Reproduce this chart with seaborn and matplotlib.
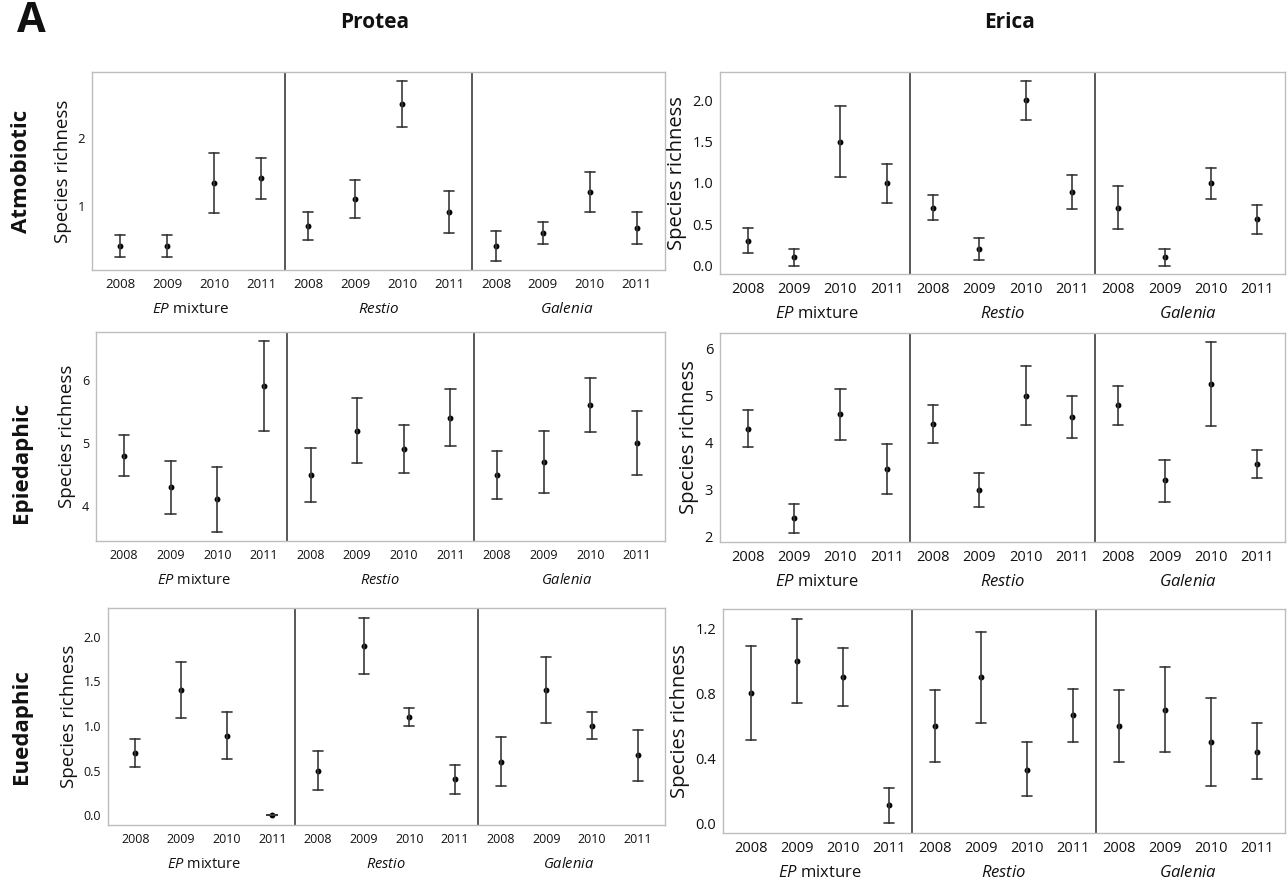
import matplotlib
matplotlib.use('Agg')
import matplotlib.pyplot as plt
import pandas as pd
import seaborn as sns

years = ['2008', '2009', '2010', '2011']
groups = ['EP mixture', 'Restio', 'Galenia']
group_labels = [r'$\mathit{EP}$ mixture', r'$\mathit{Restio}$', r'$\mathit{Galenia}$']

# means and interval ends, 12 cells each: EP mixture 2008-2011, Restio, Galenia
atmo_protea_mean = [0.40, 0.40, 1.33, 1.40, 0.70, 1.10, 2.50, 0.90, 0.40, 0.60, 1.20, 0.67]
atmo_protea_lo   = [0.24, 0.24, 0.89, 1.09, 0.49, 0.82, 2.16, 0.59, 0.18, 0.44, 0.90, 0.44]
atmo_protea_hi   = [0.56, 0.56, 1.77, 1.70, 0.91, 1.37, 2.84, 1.21, 0.62, 0.76, 1.49, 0.90]

atmo_erica_mean = [0.30, 0.10, 1.50, 1.00, 0.70, 0.20, 2.00, 0.89, 0.70, 0.10, 1.00, 0.56]
atmo_erica_lo   = [0.15, 0.00, 1.07, 0.76, 0.55, 0.07, 1.76, 0.68, 0.44, 0.00, 0.81, 0.38]
atmo_erica_hi   = [0.45, 0.20, 1.93, 1.23, 0.85, 0.33, 2.23, 1.09, 0.96, 0.20, 1.18, 0.73]

epi_protea_mean = [4.80, 4.30, 4.11, 5.90, 4.50, 5.20, 4.90, 5.40, 4.50, 4.70, 5.60, 5.00]
epi_protea_lo   = [4.48, 3.88, 3.60, 5.20, 4.07, 4.69, 4.52, 4.95, 4.12, 4.21, 5.17, 4.50]
epi_protea_hi   = [5.13, 4.72, 4.62, 6.61, 4.93, 5.71, 5.28, 5.86, 4.87, 5.20, 6.03, 5.51]

epi_erica_mean = [4.30, 2.40, 4.60, 3.45, 4.40, 3.00, 5.00, 4.55, 4.79, 3.20, 5.25, 3.55]
epi_erica_lo   = [3.90, 2.09, 4.05, 2.91, 4.00, 2.63, 4.37, 4.11, 4.38, 2.75, 4.36, 3.26]
epi_erica_hi   = [4.69, 2.70, 5.13, 3.97, 4.79, 3.36, 5.62, 4.99, 5.21, 3.64, 6.13, 3.84]

eu_protea_mean = [0.70, 1.40, 0.89, 0.00, 0.50, 1.90, 1.10, 0.40, 0.60, 1.40, 1.00, 0.67]
eu_protea_lo   = [0.54, 1.09, 0.63, 0.00, 0.28, 1.58, 1.00, 0.24, 0.33, 1.03, 0.85, 0.38]
eu_protea_hi   = [0.85, 1.71, 1.15, 0.00, 0.72, 2.21, 1.20, 0.56, 0.87, 1.77, 1.15, 0.95]

eu_erica_mean = [0.80, 1.00, 0.90, 0.11, 0.60, 0.90, 0.33, 0.67, 0.60, 0.70, 0.50, 0.44]
eu_erica_lo   = [0.51, 0.74, 0.72, 0.00, 0.38, 0.62, 0.17, 0.50, 0.38, 0.44, 0.23, 0.27]
eu_erica_hi   = [1.09, 1.26, 1.08, 0.22, 0.82, 1.18, 0.50, 0.83, 0.82, 0.96, 0.77, 0.62]

sns.set_style('white')
plt.rcParams['font.family'] = ['Open Sans', 'DejaVu Sans']
plt.rcParams['mathtext.fontset'] = 'custom'
plt.rcParams['mathtext.rm'] = 'Open Sans'
plt.rcParams['mathtext.it'] = 'Open Sans:italic'
for key in ('text.color', 'axes.labelcolor', 'xtick.color', 'ytick.color'):
    plt.rcParams[key] = '#111111'

W, H = 1288, 882
fig = plt.figure(figsize=(W / 100, H / 100), dpi=100)

cells = [f'{g} {y}' for g in groups for y in years]


def long_frame(mean, lo, hi):
    rows = []
    for cell, m, l, h in zip(cells, mean, lo, hi):
        for v in (l, m, h):
            rows.append({'cell': cell, 'value': v})
    return pd.DataFrame(rows)


def panel(box, mean, lo, hi, ylim, yticks, fmt, tick_fs, lab_fs):
    left, top, right, bottom = box
    ax = fig.add_axes([left / W, 1 - bottom / H, (right - left) / W, (bottom - top) / H])
    df = long_frame(mean, lo, hi)
    sns.pointplot(data=df, x='cell', y='value', order=cells, ax=ax,
                  estimator='median', errorbar=lambda v: (v.min(), v.max()),
                  linestyle='none', color='black', markersize=2.2, capsize=0.22,
                  err_kws={'color': '#3a3a3a', 'linewidth': 1.2})
    for xs in (3.5, 7.5):
        ax.axvline(xs, color='#2b2b2b', lw=1.1)
    ax.set_xlim(-0.6, 11.6)
    ax.set_ylim(*ylim)
    ax.set_yticks(yticks)
    ax.set_yticklabels([fmt.format(t) for t in yticks], fontsize=tick_fs)
    ax.set_xticks(range(12))
    ax.set_xticklabels(years * 3, fontsize=tick_fs)
    ax.tick_params(axis='y', length=3, color='#999999', pad=2)
    ax.tick_params(axis='x', length=0, pad=6)
    for s in ax.spines.values():
        s.set_color('#bdbdbd')
        s.set_linewidth(1.0)
    ax.set_xlabel('')
    ax.set_ylabel('Species richness', fontsize=lab_fs, labelpad=4)
    for i, g in enumerate(group_labels):
        ax.annotate(g, xy=(4 * i + 1.5, 0), xycoords=('data', 'axes fraction'),
                    xytext=(0, -23), textcoords='offset points',
                    ha='center', va='top', fontsize=tick_fs + 1.5)
    return ax


panel((92, 72, 665, 270), atmo_protea_mean, atmo_protea_lo, atmo_protea_hi,
      (0.05, 2.97), [1, 2], '{:.0f}', 9.5, 13.5)
panel((720, 72, 1285, 274), atmo_erica_mean, atmo_erica_lo, atmo_erica_hi,
      (-0.1, 2.34), [0, 0.5, 1.0, 1.5, 2.0], '{:.1f}', 10.5, 14.5)
panel((96, 332, 665, 541), epi_protea_mean, epi_protea_lo, epi_protea_hi,
      (3.45, 6.76), [4, 5, 6], '{:.0f}', 9, 13.5)
panel((720, 333, 1285, 542), epi_erica_mean, epi_erica_lo, epi_erica_hi,
      (1.89, 6.33), [2, 3, 4, 5, 6], '{:.0f}', 10.5, 14.5)
panel((108, 608, 665, 825), eu_protea_mean, eu_protea_lo, eu_protea_hi,
      (-0.11, 2.32), [0, 0.5, 1.0, 1.5, 2.0], '{:.1f}', 9, 13.5)
panel((723, 609, 1285, 833), eu_erica_mean, eu_erica_lo, eu_erica_hi,
      (-0.06, 1.32), [0, 0.4, 0.8, 1.2], '{:.1f}', 10.5, 14.5)

fig.text(31 / W, 1 - 22 / H, 'A', fontsize=30, fontweight='bold', ha='center', va='center')
fig.text(375 / W, 1 - 22 / H, 'Protea', fontsize=15, fontweight='bold', ha='center', va='center')
fig.text(1010 / W, 1 - 22 / H, 'Erica', fontsize=15, fontweight='bold', ha='center', va='center')
for label, yc in [('Atmobiotic', 171), ('Epiedaphic', 462), ('Euedaphic', 727)]:
    fig.text(22 / W, 1 - yc / H, label, fontsize=16, fontweight='bold',
             rotation=90, ha='center', va='center')

fig.savefig('out.png', dpi=100)
